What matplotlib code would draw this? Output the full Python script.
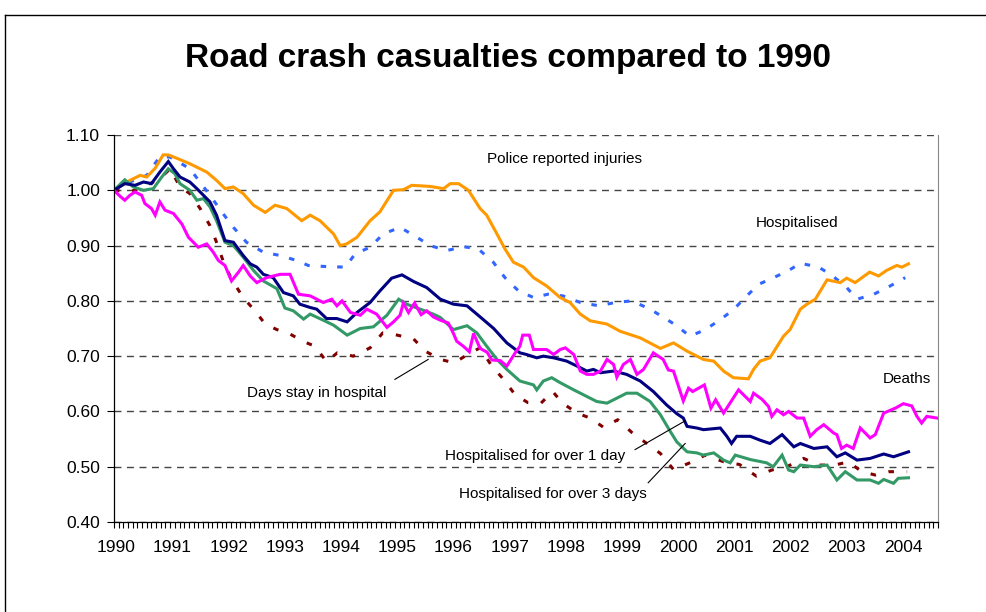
import numpy as np
import matplotlib.pyplot as plt
from matplotlib.lines import Line2D

plt.rcParams['font.family'] = ['Liberation Sans', 'DejaVu Sans']

# x = months since Jan 1990 (category axis, one slot per month)
n_months = 176
year_labels = [str(y) for y in range(1990, 2005)]
y_ticks = [0.40, 0.50, 0.60, 0.70, 0.80, 0.90, 1.00, 1.10]

# (month, index relative to 1990)
police = [(0, 1.00), (3.4, 1.018), (5.6, 1.027), (7, 1.024), (8.8, 1.04), (10.5, 1.064), (11.6, 1.064),
          (13.4, 1.058), (16.2, 1.048), (19.8, 1.033), (21.9, 1.018), (23.7, 1.003), (25.5, 1.006),
          (27.6, 0.994), (29.8, 0.973), (32.3, 0.96), (34.4, 0.973), (36.9, 0.967), (40.1, 0.945),
          (41.9, 0.955), (44, 0.945), (46.9, 0.921), (48.3, 0.90), (49.7, 0.903), (51.9, 0.915),
          (54.7, 0.945), (56.8, 0.961), (59.7, 1.00), (61.8, 1.001), (63.6, 1.009), (67.5, 1.007),
          (70.4, 1.003), (71.8, 1.012), (73.6, 1.012), (75.7, 1.00), (78.2, 0.967), (79.6, 0.955),
          (81.8, 0.921), (83.5, 0.894), (85.3, 0.870), (87.5, 0.861), (89.6, 0.842), (92.4, 0.827),
          (95.3, 0.806), (97.4, 0.797), (99.6, 0.776), (101.7, 0.764), (105.3, 0.758), (108.1, 0.745),
          (112.4, 0.733), (116.7, 0.714), (119.5, 0.724), (122.4, 0.709), (125.9, 0.694), (128.1, 0.691),
          (130.2, 0.673), (132.3, 0.661), (135.5, 0.659), (136.6, 0.676), (138, 0.691), (140.1, 0.697),
          (143, 0.736), (144.4, 0.748), (146.6, 0.785), (148, 0.794), (149.8, 0.803), (152.3, 0.838),
          (155.1, 0.833), (156.5, 0.841), (158.3, 0.833), (161.4, 0.852), (163.3, 0.845), (165, 0.855),
          (167.2, 0.864), (168.3, 0.861), (169.7, 0.867)]

hospitalised = [(0, 1.00), (3.4, 1.015), (7, 1.027), (9.8, 1.061), (12, 1.06), (16.2, 1.039), (20.5, 0.991),
                (23, 0.961), (25.5, 0.933), (28.3, 0.906), (31.9, 0.888), (35.5, 0.882), (39, 0.873),
                (41.5, 0.864), (45.4, 0.862), (49.4, 0.861), (51.5, 0.885), (54.7, 0.897), (57.5, 0.921),
                (61.1, 0.933), (64.7, 0.915), (67.5, 0.90), (71.1, 0.891), (74.6, 0.898), (77.8, 0.894),
                (81, 0.870), (83.5, 0.842), (86.4, 0.818), (89.6, 0.806), (92.7, 0.812), (95.9, 0.809),
                (99.6, 0.797), (103.6, 0.791), (107, 0.797), (110.6, 0.80), (114.5, 0.785), (117.4, 0.770),
                (120.2, 0.755), (123, 0.736), (126.3, 0.748), (129.5, 0.766), (132.3, 0.784), (134.8, 0.806),
                (137.7, 0.830), (140.9, 0.842), (144.1, 0.855), (146.6, 0.868), (150.5, 0.861), (153, 0.848),
                (156.2, 0.827), (158.7, 0.803), (162.3, 0.812), (165.8, 0.827), (169, 0.842)]

over_1_day = [(0, 1.00), (2.3, 1.012), (4.5, 1.009), (6.3, 1.015), (8, 1.012), (9.8, 1.033), (11.6, 1.052),
              (12.7, 1.039), (14.1, 1.024), (16.2, 1.015), (17.7, 1.003), (19.1, 0.991), (20.5, 0.979),
              (21.9, 0.955), (23.7, 0.909), (25.5, 0.906), (27.6, 0.882), (29.1, 0.867), (30.5, 0.861),
              (31.9, 0.848), (34, 0.842), (36.2, 0.815), (38.3, 0.809), (39.7, 0.794), (41.9, 0.788),
              (43.3, 0.785), (45.4, 0.768), (47.6, 0.768), (49.8, 0.762), (51.9, 0.779), (54.7, 0.797),
              (56.8, 0.818), (59.3, 0.841), (61.5, 0.847), (64, 0.835), (66.8, 0.824), (69.7, 0.803),
              (72.5, 0.794), (75.4, 0.791), (78.2, 0.771), (81.1, 0.75), (83.9, 0.724), (86.7, 0.706),
              (88.1, 0.703), (90.3, 0.697), (91.7, 0.70), (93.9, 0.697), (96.7, 0.691), (98.9, 0.682),
              (101, 0.673), (102.4, 0.676), (103.9, 0.67), (106.7, 0.673), (109.5, 0.667), (112.4, 0.655),
              (115.2, 0.636), (118, 0.612), (120.2, 0.596), (121.6, 0.588), (122.4, 0.573), (124.5, 0.57),
              (125.9, 0.567), (129.5, 0.57), (130.9, 0.555), (131.9, 0.542), (133, 0.555), (135.9, 0.555),
              (138, 0.548), (140.1, 0.542), (142.7, 0.558), (145.2, 0.536), (146.6, 0.542), (149.5, 0.533),
              (152.3, 0.536), (154.4, 0.518), (156.2, 0.525), (158.7, 0.512), (161.5, 0.515), (164.4, 0.523),
              (166.5, 0.518), (169.7, 0.527)]

over_3_days = [(0, 1.00), (2.3, 1.019), (4.1, 1.006), (6.3, 1.00), (8.4, 1.003), (10.2, 1.024), (11.6, 1.039),
               (13, 1.03), (14.1, 1.012), (16.2, 1.00), (17.7, 0.982), (19.1, 0.985), (20.5, 0.97),
               (21.9, 0.945), (23.7, 0.906), (25.5, 0.90), (27.6, 0.879), (29.8, 0.855), (31.9, 0.836),
               (34.8, 0.822), (36.5, 0.787), (38.3, 0.782), (40.5, 0.767), (41.9, 0.776), (44.7, 0.765),
               (46.9, 0.756), (49.8, 0.738), (52.6, 0.75), (55.4, 0.753), (58.3, 0.774), (60.8, 0.803),
               (62.5, 0.794), (65.4, 0.785), (68.2, 0.776), (69.7, 0.77), (72.5, 0.748), (75.4, 0.755),
               (77.5, 0.742), (79.6, 0.718), (81.8, 0.694), (83.9, 0.676), (86.7, 0.655), (89.6, 0.648),
               (90.3, 0.639), (91.7, 0.655), (93.5, 0.661), (95.3, 0.652), (98.2, 0.639), (101, 0.627),
               (103.1, 0.618), (105.3, 0.615), (106.7, 0.621), (109.5, 0.633), (111.7, 0.633), (114.5, 0.618),
               (116.7, 0.594), (118.8, 0.564), (120.2, 0.545), (122.4, 0.527), (124.5, 0.525), (125.9, 0.521),
               (128.1, 0.525), (130.2, 0.512), (131.6, 0.507), (132.7, 0.521), (135.9, 0.513), (139.4, 0.507),
               (140.8, 0.50), (142.7, 0.521), (144.1, 0.494), (145.2, 0.491), (146.6, 0.503), (149.5, 0.50),
               (152.3, 0.503), (154.4, 0.476), (156.2, 0.491), (158.7, 0.476), (161.5, 0.476), (163.3, 0.47),
               (164.4, 0.477), (166.5, 0.47), (167.5, 0.479), (169.7, 0.48)]

deaths = [(0, 1.00), (1.2, 0.99), (2.3, 0.982), (3.4, 0.991), (4.5, 0.997), (5.9, 0.991), (6.6, 0.976),
          (8, 0.967), (8.8, 0.955), (9.8, 0.979), (10.9, 0.964), (12.7, 0.958), (14.5, 0.939), (15.9, 0.915),
          (18, 0.897), (19.8, 0.903), (21.2, 0.888), (22.3, 0.873), (23.7, 0.864), (25.1, 0.836),
          (26.6, 0.852), (27.6, 0.864), (29.1, 0.845), (30.5, 0.833), (32.6, 0.842), (35.5, 0.848),
          (37.6, 0.848), (39.4, 0.812), (41.9, 0.809), (44.7, 0.797), (46.5, 0.803), (47.6, 0.791),
          (48.7, 0.80), (50.5, 0.779), (52.6, 0.774), (54, 0.785), (56.1, 0.776), (58.3, 0.752),
          (59.7, 0.762), (61.1, 0.774), (61.8, 0.796), (62.9, 0.779), (64.2, 0.796), (65.6, 0.775),
          (66.8, 0.782), (68.2, 0.771), (69.7, 0.765), (71.4, 0.76), (72.5, 0.741), (73.2, 0.727),
          (74.6, 0.718), (75.9, 0.708), (76.8, 0.741), (78.2, 0.714), (79.7, 0.707), (80.7, 0.693),
          (82.5, 0.692), (83.9, 0.682), (85.7, 0.706), (86.7, 0.718), (87.3, 0.738), (88.7, 0.738),
          (89.6, 0.712), (92.4, 0.712), (93.9, 0.703), (95.3, 0.712), (96.4, 0.715), (98.2, 0.703),
          (99.6, 0.673), (101, 0.667), (102.4, 0.667), (103.9, 0.673), (105.3, 0.694), (106.7, 0.685),
          (107.4, 0.662), (108.8, 0.685), (110.3, 0.694), (111.7, 0.667), (113.1, 0.676), (115.2, 0.706),
          (117.3, 0.694), (118.4, 0.675), (119.5, 0.673), (121.6, 0.619), (122.7, 0.642), (123.6, 0.636),
          (126.1, 0.648), (127.5, 0.606), (128.5, 0.621), (130.2, 0.597), (133.4, 0.639), (135.9, 0.618),
          (136.6, 0.633), (138.4, 0.622), (139.8, 0.609), (140.5, 0.591), (141.6, 0.603), (143, 0.594),
          (144.1, 0.60), (145.9, 0.588), (147.3, 0.588), (148.7, 0.555), (150.1, 0.567), (151.6, 0.576),
          (153.7, 0.561), (154.4, 0.558), (155.4, 0.533), (156.5, 0.539), (157.9, 0.533), (159.4, 0.57),
          (161.5, 0.552), (162.6, 0.558), (164.4, 0.597), (166.9, 0.606), (168.6, 0.614), (170.4, 0.61),
          (171.5, 0.591), (172.5, 0.579), (173.6, 0.591), (175.8, 0.588)]

days_stay = [(0, 1.00), (3.4, 0.997), (6.3, 1.006), (9.8, 1.021), (12, 1.039), (14.1, 1.006), (16.2, 0.994),
             (18.4, 0.967), (20.5, 0.936), (21.9, 0.906), (23.4, 0.87), (25.1, 0.839), (27.6, 0.806),
             (30.1, 0.782), (32.3, 0.758), (34.8, 0.748), (37.4, 0.741), (40.3, 0.727), (42.9, 0.718),
             (45.4, 0.69), (47.7, 0.706), (51.1, 0.70), (54.7, 0.715), (57.4, 0.742), (60, 0.739),
             (64, 0.731), (66.5, 0.709), (69.7, 0.694), (72.7, 0.688), (75.9, 0.705), (78.2, 0.715),
             (80.7, 0.682), (83, 0.66), (85.7, 0.63), (88.4, 0.616), (91.2, 0.615), (93.7, 0.636),
             (95.8, 0.615), (98.9, 0.597), (101.7, 0.588), (104.6, 0.571), (107.6, 0.585), (110.6, 0.562),
             (113.8, 0.542), (116.7, 0.524), (119.5, 0.495), (122.7, 0.506), (126.3, 0.521), (130.2, 0.509),
             (133.6, 0.504), (137.2, 0.483), (140.5, 0.494), (143.7, 0.50), (147.3, 0.515), (150.5, 0.503),
             (154, 0.503), (156.9, 0.509), (159.7, 0.491), (162.6, 0.485), (165.5, 0.491), (169.4, 0.491)]

fig = plt.figure(figsize=(9.87, 6.12), dpi=100)
ax = fig.add_axes([114 / 987, 1 - 522 / 612, (938 - 114) / 987, (522 - 135) / 612])


def draw(series, **kw):
    m, v = zip(*series)
    ax.plot(m, v, solid_joinstyle='miter', **kw)


draw(hospitalised, color='#3366FF', lw=2.2, linestyle=(0, (1.8, 3.6)))
draw(police, color='#FF9900', lw=2.2)
draw(days_stay, color='#800000', lw=2.2, linestyle=(0, (1.8, 4.2)))
draw(over_3_days, color='#339966', lw=2.2)
draw(over_1_day, color='#000080', lw=2.2)
draw(deaths, color='#FF00FF', lw=2.2)

ax.set_xlim(0, n_months)
ax.set_ylim(0.40, 1.10)
ax.set_yticks(y_ticks)
ax.set_yticklabels(['%.2f' % t for t in y_ticks])
ax.set_xticks(np.arange(len(year_labels)) * 12 + 0.5)
ax.set_xticklabels(year_labels)
ax.set_xticks(np.arange(0, n_months + 1), minor=True)
ax.tick_params(axis='x', which='major', length=0, pad=13, labelsize=12.5)
ax.tick_params(axis='x', which='minor', length=4.5, width=0.8, direction='out')
ax.tick_params(axis='y', length=5, width=0.8, direction='out', pad=5, labelsize=12.5)

ax.yaxis.grid(True, linestyle=(0, (5, 4)), color='#444444', lw=1)
ax.set_axisbelow(True)
ax.spines['top'].set_visible(False)
ax.spines['right'].set_color('#888888')
ax.spines['left'].set_linewidth(0.9)
ax.spines['bottom'].set_linewidth(0.9)

# labels for the series
fs = 11
ax.text(96.2, 1.056, 'Police reported injuries', ha='center', va='center', fontsize=fs)
ax.text(145.9, 0.94, 'Hospitalised', ha='center', va='center', fontsize=fs)
ax.text(169.4, 0.658, 'Deaths', ha='center', va='center', fontsize=fs)
ax.text(43.2, 0.634, 'Days stay in hospital', ha='center', va='center', fontsize=fs)
ax.text(90, 0.52, 'Hospitalised for over 1 day', ha='center', va='center', fontsize=fs)
ax.text(93.8, 0.451, 'Hospitalised for over 3 days', ha='center', va='center', fontsize=fs)
ax.plot([60.0, 67.1], [0.658, 0.694], color='black', lw=0.8)
ax.plot([111.3, 122], [0.531, 0.583], color='black', lw=0.8)
ax.plot([114.1, 122], [0.471, 0.542], color='black', lw=0.8)

fig.text(508 / 987, 1 - 58 / 612, 'Road crash casualties compared to 1990', ha='center', va='center',
         fontsize=24, fontweight='bold')

# outer chart frame (cut off at right and bottom)
fig.add_artist(Line2D([5 / 987, 1], [1 - 15 / 612, 1 - 15 / 612], color='black', lw=1))
fig.add_artist(Line2D([5 / 987, 5 / 987], [0, 1 - 15 / 612], color='black', lw=1))

fig.savefig('out.png', dpi=100)
